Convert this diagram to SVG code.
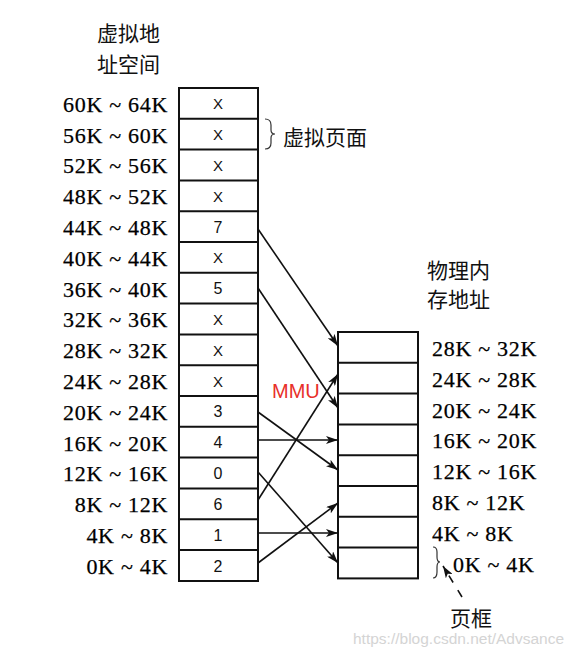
<svg xmlns="http://www.w3.org/2000/svg" width="577" height="654" viewBox="0 0 577 654">
<style>
.lbl{font-family:"Liberation Serif","Noto Sans CJK SC",serif;font-size:22px;fill:#000;letter-spacing:0.7px;stroke:#000;stroke-width:0.25}
.cjk{font-family:"Noto Sans CJK SC",serif;font-size:21px;fill:#111}
.cell{font-family:"Liberation Sans",Arial,sans-serif;font-size:16px;fill:#111;text-anchor:middle}
.box{fill:#fff;stroke:#111;stroke-width:2}
.conn{stroke:#111;stroke-width:1.6;fill:none}
.brace{stroke:#333;stroke-width:1.2;fill:none}
.mmu{font-family:"Liberation Sans",Arial,sans-serif;font-size:20px;fill:#e8302a}
.wm{font-family:"Liberation Sans",Arial,sans-serif;font-size:15.5px;fill:#d4d4d4}
</style>
<defs>
<marker id="ah" viewBox="0 0 12 8" refX="12" refY="4" markerWidth="12" markerHeight="8" markerUnits="userSpaceOnUse" orient="auto">
<path d="M0,0 L12,4 L0,8 L3,4 Z" fill="#111"/>
</marker>
</defs>
<rect width="577" height="654" fill="#fff"/>

<g id="virtual-title">
<text class="cjk" x="97" y="41">虚拟地</text>
<text class="cjk" x="97" y="72">址空间</text>
</g>

<g id="virtual-labels" class="lbl" text-anchor="end">
<text x="168" y="112">60K ~ 64K</text>
<text x="168" y="143">56K ~ 60K</text>
<text x="168" y="173">52K ~ 56K</text>
<text x="168" y="204">48K ~ 52K</text>
<text x="168" y="235">44K ~ 48K</text>
<text x="168" y="266">40K ~ 44K</text>
<text x="168" y="297">36K ~ 40K</text>
<text x="168" y="327">32K ~ 36K</text>
<text x="168" y="358">28K ~ 32K</text>
<text x="168" y="389">24K ~ 28K</text>
<text x="168" y="420">20K ~ 24K</text>
<text x="168" y="451">16K ~ 20K</text>
<text x="168" y="481">12K ~ 16K</text>
<text x="168" y="512">8K ~ 12K</text>
<text x="168" y="543">4K ~ 8K</text>
<text x="168" y="574">0K ~ 4K</text>
</g>

<g id="virtual-pages">
<rect class="box" x="179" y="88" width="79" height="493"/>
<g stroke="#111" stroke-width="2">
<line x1="179" y1="118.8" x2="258" y2="118.8"/>
<line x1="179" y1="149.6" x2="258" y2="149.6"/>
<line x1="179" y1="180.4" x2="258" y2="180.4"/>
<line x1="179" y1="211.2" x2="258" y2="211.2"/>
<line x1="179" y1="242" x2="258" y2="242"/>
<line x1="179" y1="272.8" x2="258" y2="272.8"/>
<line x1="179" y1="303.6" x2="258" y2="303.6"/>
<line x1="179" y1="334.4" x2="258" y2="334.4"/>
<line x1="179" y1="365.2" x2="258" y2="365.2"/>
<line x1="179" y1="396" x2="258" y2="396"/>
<line x1="179" y1="426.8" x2="258" y2="426.8"/>
<line x1="179" y1="457.6" x2="258" y2="457.6"/>
<line x1="179" y1="488.4" x2="258" y2="488.4"/>
<line x1="179" y1="519.2" x2="258" y2="519.2"/>
<line x1="179" y1="550" x2="258" y2="550"/>
</g>
<g class="cell">
<text x="218" y="109" font-size="15">X</text>
<text x="218" y="140" font-size="15">X</text>
<text x="218" y="171" font-size="15">X</text>
<text x="218" y="202" font-size="15">X</text>
<text x="218" y="233">7</text>
<text x="218" y="263" font-size="15">X</text>
<text x="218" y="294">5</text>
<text x="218" y="325" font-size="15">X</text>
<text x="218" y="356" font-size="15">X</text>
<text x="218" y="387" font-size="15">X</text>
<text x="218" y="417">3</text>
<text x="218" y="448">4</text>
<text x="218" y="479">0</text>
<text x="218" y="510">6</text>
<text x="218" y="541">1</text>
<text x="218" y="572">2</text>
</g>
</g>

<g id="virtual-page-note">
<path class="brace" d="M265,119 Q271,119 271,125 L271,130 Q271,134 275,134 Q271,134 271,138 L271,143 Q271,149 265,149"/>
<text class="cjk" x="283" y="145">虚拟页面</text>
</g>

<g id="physical-title">
<text class="cjk" x="427" y="278">物理内</text>
<text class="cjk" x="427" y="307">存地址</text>
</g>

<g id="physical-frames">
<rect class="box" x="338" y="332" width="80" height="246.4"/>
<g stroke="#111" stroke-width="2">
<line x1="338" y1="362.8" x2="418" y2="362.8"/>
<line x1="338" y1="393.6" x2="418" y2="393.6"/>
<line x1="338" y1="424.4" x2="418" y2="424.4"/>
<line x1="338" y1="455.2" x2="418" y2="455.2"/>
<line x1="338" y1="486" x2="418" y2="486"/>
<line x1="338" y1="516.8" x2="418" y2="516.8"/>
<line x1="338" y1="547.6" x2="418" y2="547.6"/>
</g>
</g>

<g id="physical-labels" class="lbl">
<text x="432" y="356">28K ~ 32K</text>
<text x="432" y="387">24K ~ 28K</text>
<text x="432" y="418">20K ~ 24K</text>
<text x="432" y="448">16K ~ 20K</text>
<text x="432" y="479">12K ~ 16K</text>
<text x="432" y="510">8K ~ 12K</text>
<text x="432" y="541">4K ~ 8K</text>
<text x="453" y="572">0K ~ 4K</text>
</g>

<g id="frame-note">
<path class="brace" d="M433,547 Q437,547 437,552 L437,557 Q437,562 440,562 Q437,562 437,567 L437,572 Q437,578 433,578"/>
<line class="conn" x1="462" y1="597" x2="443" y2="566" stroke-dasharray="8 9" stroke-width="1.2" marker-end="url(#ah)"/>
<text class="cjk" x="450" y="626" font-size="20">页框</text>
</g>

<g id="connectors">
<line class="conn" x1="258" y1="229" x2="338" y2="346" marker-end="url(#ah)"/>
<line class="conn" x1="258" y1="288" x2="338" y2="408" marker-end="url(#ah)"/>
<line class="conn" x1="258" y1="412" x2="338" y2="470" marker-end="url(#ah)"/>
<line class="conn" x1="258" y1="440" x2="338" y2="440" marker-end="url(#ah)"/>
<line class="conn" x1="258" y1="472" x2="338" y2="563" marker-end="url(#ah)"/>
<line class="conn" x1="258" y1="500" x2="338" y2="374" marker-end="url(#ah)"/>
<line class="conn" x1="258" y1="533" x2="338" y2="533" marker-end="url(#ah)"/>
<line class="conn" x1="258" y1="563" x2="338" y2="503" marker-end="url(#ah)"/>
</g>

<text class="mmu" x="272" y="398">MMU</text>
<text class="wm" x="353" y="644">https://blog.csdn.net/Advsance</text>
</svg>
